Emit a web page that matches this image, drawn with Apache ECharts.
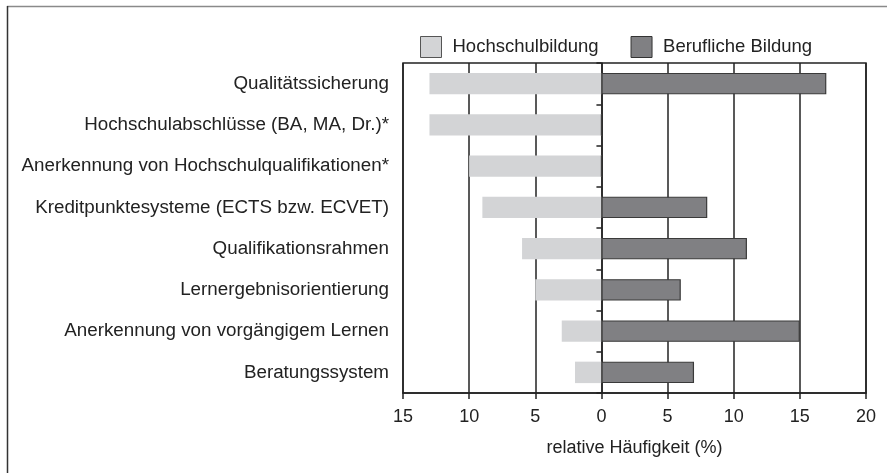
<!DOCTYPE html>
<html>
<head>
<meta charset="utf-8">
<script src="https://cdn.jsdelivr.net/npm/echarts@6/dist/echarts.min.js"></script>
<style>
  html, body { margin: 0; padding: 0; background: #fff; }
  #chart { width: 887px; height: 473px; }
</style>
</head>
<body>
<div id="chart"></div>
<script>
const categories = [
  'Qualitätssicherung',
  'Hochschulabschlüsse (BA, MA, Dr.)*',
  'Anerkennung von Hochschulqualifikationen*',
  'Kreditpunktesysteme (ECTS bzw. ECVET)',
  'Qualifikationsrahmen',
  'Lernergebnisorientierung',
  'Anerkennung von vorgängigem Lernen',
  'Beratungssystem'
];
// Hochschulbildung is drawn to the left of zero
const hochschul = [13, 13, 10, 9, 6, 5, 3, 2];
const beruflich = [17, 0, 0, 8, 11, 6, 15, 7];

const font = 'Liberation Sans, Arial, sans-serif';
const lightGray = '#d3d4d6';
const darkGray = '#808083';

let chart = echarts.init(document.getElementById('chart'), null, { renderer: 'canvas' });

let option = {
  animation: false,
  textStyle: { fontFamily: font },
  legend: {
    top: 31,
    left: 415,
    itemWidth: 21,
    itemHeight: 21,
    itemGap: 32,
    textStyle: { fontFamily: font, fontSize: 18.5, color: '#222', padding: [0, 0, 0, 6] },
    data: [
      { name: 'Hochschulbildung', icon: 'rect', itemStyle: { color: lightGray, borderColor: '#555', borderWidth: 1 } },
      { name: 'Berufliche Bildung', icon: 'rect', itemStyle: { color: darkGray, borderColor: '#333', borderWidth: 1 } }
    ]
  },
  grid: {
    left: 403,
    right: 21,
    top: 63,
    bottom: 80,
    show: true,
    borderColor: '#222',
    borderWidth: 1.5,
    backgroundColor: 'transparent'
  },
  xAxis: {
    type: 'value',
    min: -15,
    max: 20,
    interval: 5,
    name: 'relative Häufigkeit (%)',
    nameLocation: 'middle',
    nameGap: 46,
    nameTextStyle: { fontFamily: font, fontSize: 18, color: '#222' },
    axisLine: { show: true, onZero: false, lineStyle: { color: '#222', width: 1.5 } },
    axisTick: { show: true, length: 6, lineStyle: { color: '#222', width: 1.5 } },
    axisLabel: {
      fontFamily: font, fontSize: 18, color: '#222', margin: 15,
      formatter: v => String(Math.abs(v))
    },
    splitLine: { show: true, lineStyle: { color: '#222', width: 1.5 } }
  },
  yAxis: [
    {
      type: 'category',
      data: categories,
      inverse: true,
      axisLine: { show: false, onZero: false },
      axisTick: { show: false },
      axisLabel: { fontFamily: font, fontSize: 18.8, color: '#222', margin: 14, align: 'right' }
    },
    {
      type: 'category',
      data: categories,
      inverse: true,
      position: 'left',
      axisLine: { show: true, onZero: true, lineStyle: { color: '#222', width: 1.5 } },
      axisTick: { show: true, length: 5, lineStyle: { color: '#222', width: 1.5 } },
      axisLabel: { show: false }
    }
  ],
  graphic: [
    { type: 'line', shape: { x1: 7, y1: 6.5, x2: 887, y2: 6.5 }, style: { stroke: '#8a8a8a', lineWidth: 1.5 } },
    { type: 'line', shape: { x1: 7.5, y1: 6, x2: 7.5, y2: 473 }, style: { stroke: '#333', lineWidth: 1.5 } }
  ],
  series: [
    {
      name: 'Hochschulbildung',
      type: 'bar',
      barWidth: '52%',
      barGap: '-100%',
      itemStyle: { color: lightGray },
      data: hochschul.map(v => -v)
    },
    {
      name: 'Berufliche Bildung',
      type: 'bar',
      barWidth: '52%',
      barGap: '-100%',
      itemStyle: { color: darkGray, borderColor: '#3a3a3a', borderWidth: 1.2 },
      data: beruflich
    }
  ]
};

chart.setOption(option);
</script>
</body>
</html>
